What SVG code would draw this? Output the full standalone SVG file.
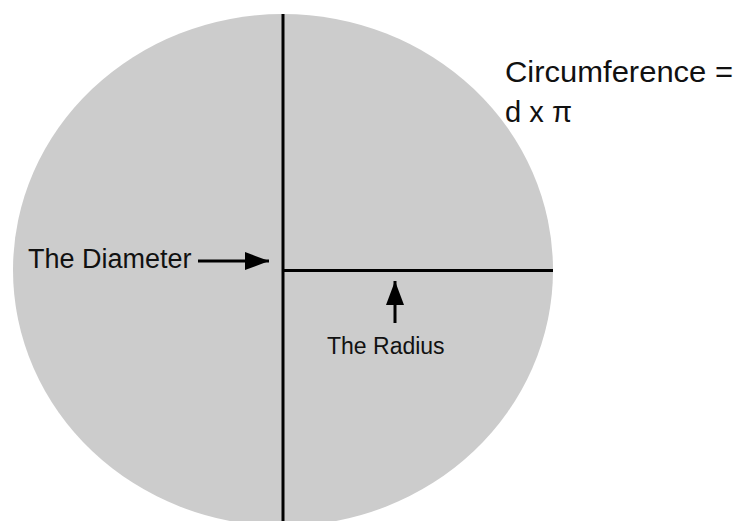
<svg xmlns="http://www.w3.org/2000/svg" width="737" height="521" viewBox="0 0 737 521">
  <style>
    .lbl { font-family: "Liberation Sans", Arial, sans-serif; fill: #111; }
    .edge { stroke: #000; stroke-width: 3; fill: none; }
    .arr { stroke: #000; stroke-width: 3; fill: none; }
  </style>
  <defs>
    <marker id="head" markerUnits="userSpaceOnUse" markerWidth="24" markerHeight="18" refX="24" refY="9" orient="auto">
      <path d="M0,0 L24,9 L0,18 Z" fill="#000"/>
    </marker>
  </defs>
  <rect width="737" height="521" fill="#fff"/>
  <g id="circle">
    <ellipse cx="283" cy="270" rx="270" ry="256" fill="#cccccc"/>
    <line class="edge" x1="283" y1="14" x2="283" y2="521"/>
    <line class="edge" x1="283" y1="270.5" x2="553" y2="270.5"/>
  </g>
  <g id="connectors">
    <line class="arr" x1="198" y1="261" x2="269" y2="261" marker-end="url(#head)"/>
    <line class="arr" x1="395" y1="323" x2="395" y2="281" marker-end="url(#head)"/>
  </g>
  <g id="diameter-label">
    <text class="lbl" x="28" y="268" font-size="27">The Diameter</text>
  </g>
  <g id="radius-label">
    <text class="lbl" x="327" y="354" font-size="23">The Radius</text>
  </g>
  <g id="circumference-label">
    <text class="lbl" x="505" y="82" font-size="29" textLength="228" lengthAdjust="spacingAndGlyphs">Circumference =</text>
    <text class="lbl" x="505" y="122" font-size="29" textLength="67" lengthAdjust="spacingAndGlyphs">d x π</text>
  </g>
</svg>
